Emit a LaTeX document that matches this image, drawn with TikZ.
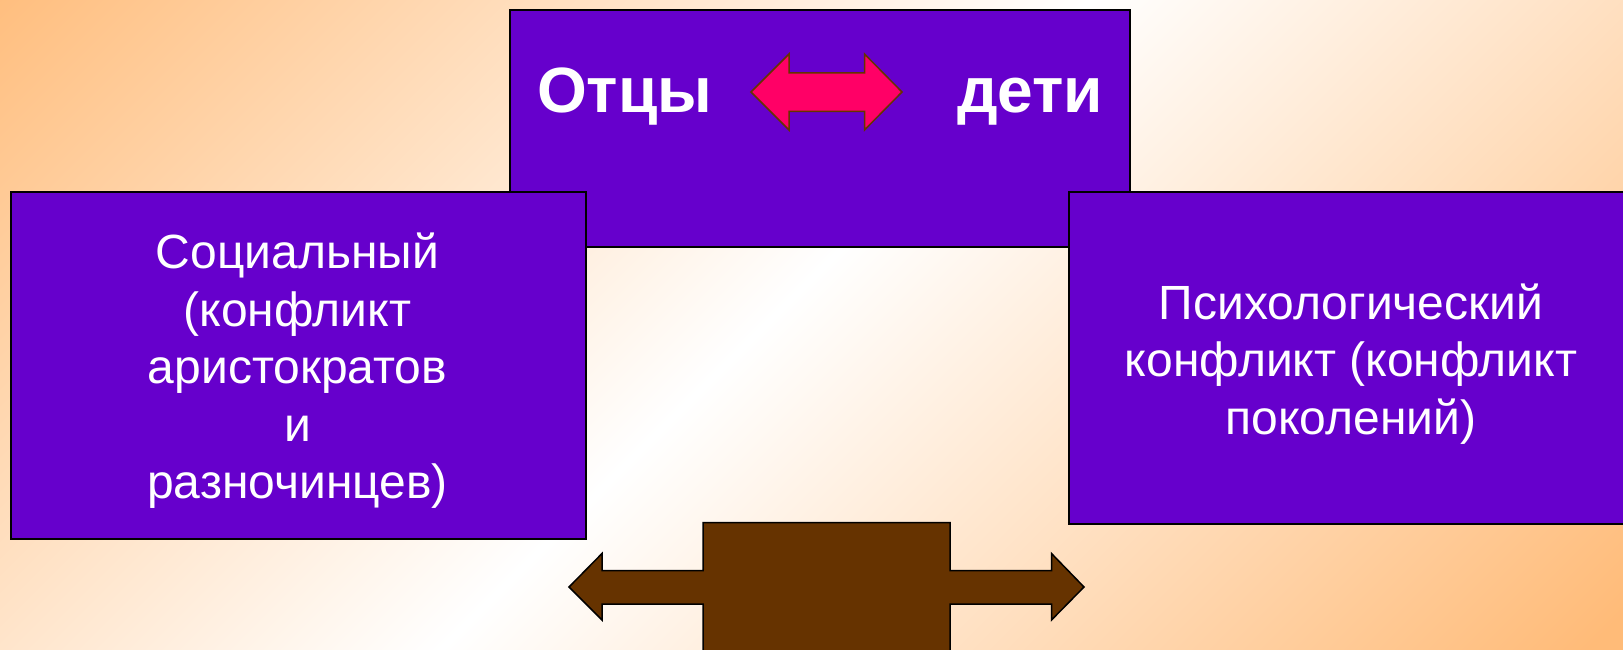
\documentclass[tikz,border=0pt]{standalone}
\usepackage{fontspec}
\setmainfont{Liberation Sans}
\definecolor{bgorange}{HTML}{FFBB78}
\definecolor{boxpurple}{HTML}{6600CC}
\definecolor{arrowbrown}{HTML}{663300}
\definecolor{arrowpink}{HTML}{FF0066}
\pgfdeclareverticalshading{bgshading}{100bp}{color(0bp)=(bgorange); color(33bp)=(bgorange); color(50bp)=(white); color(67bp)=(bgorange); color(100bp)=(bgorange)}
\tikzset{
  boxstyle/.style={draw=black, line width=2pt, fill=boxpurple, inner sep=0pt, anchor=north west},
  bodytext/.style={text=white, align=center, inner sep=0pt, font=\fontsize{48}{57.5}\selectfont},
  titletext/.style={text=white, inner sep=0pt, anchor=base west, font=\fontsize{64}{77}\selectfont\bfseries},
  pinkarrow/.style={fill=arrowpink, draw=arrowbrown, line width=1.5pt, line join=miter},
  brownshape/.style={fill=arrowbrown, draw=black, line width=1.5pt, line join=miter},
}
\begin{document}
\begin{tikzpicture}[x=1pt, y=-1pt]
\useasboundingbox (0,0) rectangle (1623,650);
\begin{scope}
  \clip (0,0) rectangle (1623,650);
  \shade[shading=bgshading, shading angle=45] (-389,-921) rectangle (2011,1479);
\end{scope}
% top box
\node[boxstyle, minimum width=619.5pt, minimum height=236.7pt] (topbox) at (509,9.3) {};
\node[titletext] (fathers) at (537,113) {Отцы};
\node[titletext] (children) at (957,113) {дети};
\draw[pinkarrow] (751,92) -- (789,54) -- (789,73) -- (864.5,73) -- (864.5,54) -- (902,92)
  -- (864.5,130) -- (864.5,111.5) -- (789,111.5) -- (789,130) -- cycle;
% side boxes
\node[boxstyle, minimum width=575pt, minimum height=347.5pt] (leftbox) at (10,190.5) {};
\node[bodytext] (lefttext) at (297.5,371) {Социальный\\(конфликт\\аристократов\\и\\разночинцев)};
\node[boxstyle, minimum width=572pt, minimum height=332.5pt] (rightbox) at (1068,190.5) {};
\node[bodytext] (righttext) at (1351,364) {Психологический\\конфликт (конфликт\\поколений)};
% bottom brown shape
\draw[brownshape] (569,587) -- (602,553.5) -- (602,570.7) -- (703,570.7) -- (703,522.7)
  -- (950,522.7) -- (950,570.7) -- (1051.5,570.7) -- (1051.5,553.5) -- (1084,587)
  -- (1051.5,620) -- (1051.5,604) -- (950,604) -- (950,665) -- (703,665) -- (703,604)
  -- (602,604) -- (602,620) -- cycle;
\end{tikzpicture}
\end{document}
